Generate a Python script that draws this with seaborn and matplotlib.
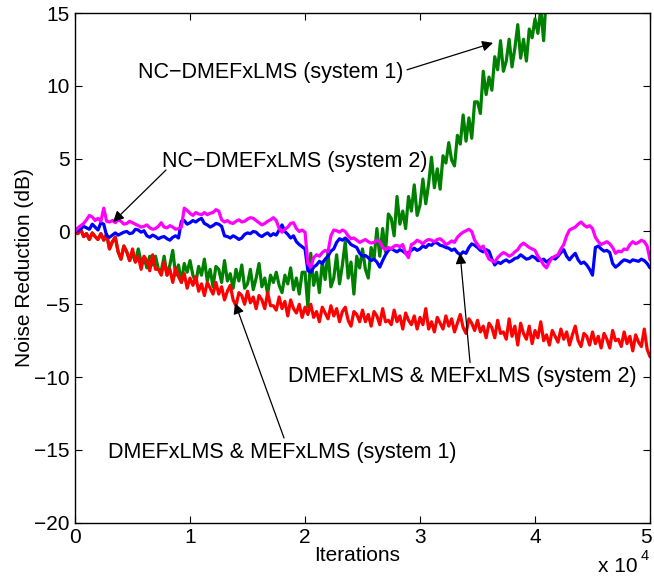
import numpy as np
import pandas as pd
import matplotlib
matplotlib.use("Agg")
import matplotlib.pyplot as plt
import matplotlib.transforms as mtransforms
import seaborn as sns

# ---------------- data ----------------
step = 250      # iteration spacing of all curves

red_db = [
    0.0, -0.15, 0.15, -0.35, -0.15, -0.55, -0.1, -0.35, -0.55, -0.15,
    -0.6, -0.2, -1.2, -0.7, -0.4, -1.4, -1.9, -1.0, -1.4, -2.0,
    -1.2, -2.1, -1.7, -2.6, -1.7, -2.0, -2.7, -1.6, -2.6, -2.6,
    -3.0, -2.1, -3.0, -2.6, -3.5, -2.5, -3.1, -3.5, -2.9, -3.9,
    -3.2, -3.7, -3.1, -4.1, -3.6, -4.4, -3.5, -3.9, -4.3, -3.5,
    -4.3, -3.8, -4.7, -4.1, -3.7, -4.7, -5.1, -4.2, -4.4, -5.0,
    -4.1, -4.9, -4.5, -5.3, -4.4, -4.7, -5.3, -4.2, -5.1, -5.1,
    -5.4, -4.5, -5.3, -4.8, -5.8, -4.7, -5.3, -5.6, -5.0, -5.9,
    -5.2, -5.7, -5.0, -5.9, -5.5, -6.2, -5.2, -5.6, -6.0, -5.1,
    -5.8, -5.3, -6.2, -5.5, -5.2, -6.1, -6.5, -5.5, -5.7, -6.2,
    -5.4, -6.2, -5.7, -6.5, -5.5, -5.8, -6.4, -5.3, -6.2, -6.1,
    -6.4, -5.4, -6.2, -5.8, -6.7, -5.6, -6.1, -6.4, -5.8, -6.7,
    -5.9, -6.4, -5.3, -6.7, -6.2, -6.9, -5.9, -6.3, -6.7, -5.8,
    -6.5, -6.0, -6.9, -6.3, -5.7, -6.6, -7.0, -6.0, -6.3, -6.8,
    -6.1, -6.9, -6.5, -7.3, -6.3, -6.6, -7.3, -6.1, -7.0, -6.9,
    -7.4, -6.0, -7.2, -6.5, -7.8, -6.3, -7.0, -7.4, -6.5, -7.7,
    -6.8, -7.3, -6.2, -7.5, -7.1, -7.8, -6.8, -7.2, -7.6, -6.7,
    -7.4, -6.9, -7.8, -7.1, -6.5, -7.5, -7.9, -7.0, -7.2, -7.8,
    -6.9, -7.7, -7.2, -8.0, -7.0, -7.4, -8.0, -6.8, -7.5, -7.4,
    -7.9, -6.9, -7.7, -7.2, -8.2, -7.1, -7.6, -7.9, -6.7, -8.1,
    -8.6,
]

green_db = [
    0.0, -0.15, 0.15, -0.35, -0.15, -0.55, -0.1, -0.35, -0.55, -0.15,
    -0.6, -0.2, -1.2, -0.7, -0.4, -1.4, -1.9, -1.0, -1.4, -2.0,
    -1.5, -2.1, -1.2, -2.1, -1.8, -2.5, -1.7, -2.3, -1.7, -2.6,
    -2.7, -1.7, -3.0, -2.3, -1.3, -3.0, -2.3, -3.5, -2.2, -2.8,
    -2.0, -3.0, -3.5, -2.4, -3.0, -1.9, -3.4, -2.6, -3.8, -2.4,
    -2.6, -3.5, -2.0, -3.4, -2.9, -3.9, -2.6, -3.4, -2.3, -3.9,
    -3.6, -2.6, -4.0, -3.2, -2.2, -3.8, -3.2, -4.3, -3.0, -3.5,
    -2.8, -3.7, -4.2, -3.0, -3.6, -2.5, -4.0, -3.2, -4.3, -2.8,
    -2.8, -5.2, -1.5, -3.7, -2.8, -4.2, -2.1, -3.3, -1.4, -3.8,
    -3.2, -1.6, -3.6, -2.3, -0.7, -3.2, -2.1, -4.3, -1.7, -2.5,
    -1.2, -2.6, -3.2, -1.1, -1.9, 0.2, -1.7, 0.2, -1.4, 1.2,
    0.9, -0.3, 2.4, 0.5, 1.4, 0.2, 2.4, 1.4, 3.2, 1.1,
    1.8, 3.6, 1.9, 3.3, 5.1, 3.0, 4.3, 2.9, 5.2, 4.7,
    6.1, 4.9, 4.5, 6.6, 6.0, 8.0, 6.2, 7.8, 6.4, 8.9,
    8.9, 8.1, 11.0, 9.4, 10.6, 9.7, 12.0, 11.1, 13.1, 11.0,
    11.7, 13.2, 11.3, 12.6, 14.2, 11.9, 13.2, 11.7, 13.9, 13.3,
    14.6, 13.6, 15.3, 13.1, 16.5,
]

blue_db = [
    0.0, 0.05, 0.2, 0.35, 0.25, 0.15, 0.5, 0.3, 0.1, 0.6,
    0.5, -0.3, -0.4, -0.25, -0.1, -0.25, -0.15, -0.05, 0.0, -0.15,
    -0.1, 0.15, 0.1, -0.05, 0.05, -0.3, -0.4, -0.25, -0.35, -0.5,
    -0.4, -0.35, -0.5, -0.6, -0.4, -0.3, -0.45, 0.7, 0.75, 0.5,
    0.6, 0.75, 0.65, 0.8, 0.9, 0.55, 0.45, 0.3, 0.4, 0.55,
    0.5, 0.35, -0.3, -0.35, -0.45, -0.3, -0.4, -0.55, -0.45, -0.2,
    -0.1, -0.15, 0.0, -0.05, -0.25, -0.35, -0.2, -0.1, -0.3, -0.15,
    -0.25, 0.1, 0.45, 0.0, -0.2, -0.45, -0.3, -0.7, -0.9, -1.05,
    -1.2, -2.7, -2.8, -2.45, -2.3, -2.05, -2.2, -1.9, -1.7, -1.35,
    -1.2, -0.75, -0.5, -0.6, -0.45, -0.65, -0.9, -1.0, -1.1, -1.5,
    -1.7, -1.65, -1.8, -2.0, -1.9, -2.1, -2.45, -2.0, -1.6, -1.3,
    -1.15, -1.3, -1.4, -1.25, -1.35, -1.5, -1.45, -1.3, -1.15, -1.3,
    -1.2, -1.0, -1.1, -0.9, -0.95, -0.75, -0.8, -0.95, -1.0, -1.1,
    -1.15, -1.3, -1.2, -1.45, -1.6, -1.4, -1.5, -1.1, -0.85, -0.95,
    -1.1, -1.3, -1.4, -1.25, -1.35, -1.9, -2.3, -2.1, -2.2, -2.05,
    -1.95, -2.1, -2.0, -1.85, -1.8, -1.6, -1.75, -1.9, -1.85, -1.7,
    -1.8, -2.0, -2.0, -1.9, -2.1, -1.95, -1.8, -1.9, -1.7, -1.45,
    -1.25, -1.7, -1.95, -1.7, -1.5, -1.95, -2.2, -2.1, -2.3, -2.6,
    -3.0, -1.1, -1.0, -1.2, -1.35, -1.3, -1.45, -2.2, -2.45, -2.3,
    -2.1, -1.95, -2.0, -2.1, -1.95, -2.0, -2.05, -1.9, -2.0, -2.2,
    -2.5,
]

magenta_db = [
    0.0, 0.25, 0.4, 0.55, 0.8, 1.1, 1.0, 0.75, 0.9, 0.7,
    1.6, 0.7, 0.65, 0.75, 0.6, 0.8, 0.7, 0.5, 0.55, 0.7,
    0.6, 0.5, 0.4, 0.3, 0.35, 0.45, 0.25, 0.15, 0.2, 0.35,
    0.6, 0.3, 0.25, 0.4, 0.3, 0.15, 0.2, 0.3, 1.6, 1.45,
    1.25, 1.1, 1.3, 1.2, 1.15, 1.3, 1.15, 1.25, 1.3, 1.5,
    1.4, 0.8, 0.65, 0.75, 0.6, 0.55, 0.7, 0.8, 0.65, 0.7,
    0.85, 0.95, 0.9, 0.75, 0.6, 0.45, 0.55, 0.7, 0.8, 0.95,
    0.75, 0.2, -0.05, 0.15, 0.3, 0.55, 0.6, 0.2, 0.0, 0.1,
    -0.05, -2.2, -2.45, -1.8, -1.6, -1.7, -1.45, -1.3, -1.4, -0.3,
    0.1, 0.05, -0.05, 0.1, 0.0, -0.3, -0.5, -0.45, -0.6, -0.75,
    -0.65, -0.55, -0.7, -0.8, -0.75, -0.6, -0.7, -1.1, -1.25, -1.1,
    -1.2, -1.0, -0.95, -1.05, -0.9, -1.5, -1.8, -0.9, -0.8, -0.6,
    -0.7, -0.85, -0.65, -0.55, -0.6, -0.7, -0.55, -0.5, -0.65, -0.9,
    -0.8, -0.65, -0.75, -0.4, -0.2, -0.05, 0.05, 0.15, 0.0, -0.6,
    -0.9, -1.15, -1.0, -1.5, -1.9, -2.0, -2.1, -1.8, -1.6, -1.45,
    -1.55, -1.7, -1.6, -1.4, -1.25, -0.95, -0.8, -0.95, -1.1, -1.2,
    -1.3, -1.7, -1.95, -2.3, -2.5, -2.1, -1.8, -1.7, -1.6, -1.2,
    -0.9, -0.3, 0.1, 0.2, 0.3, 0.5, 0.65, 0.45, 0.3, 0.4,
    0.2, -0.4, -0.7, -0.9, -0.8, -0.7, -0.85, -1.1, -1.5, -1.35,
    -1.4, -1.2, -1.25, -0.9, -0.7, -0.85, -0.75, -0.6, -0.7, -1.0,
    -1.95,
]

x_ticks = [0, 10000, 20000, 30000, 40000, 50000]
x_tick_labels = ["0", "1", "2", "3", "4", "5"]
y_ticks = [-20, -15, -10, -5, 0, 5, 10, 15]
y_tick_labels = ["\u221220", "\u221215", "\u221210", "\u22125", "0", "5", "10", "15"]

label_nc1 = "NC\u2212DMEFxLMS (system 1)"
label_nc2 = "NC\u2212DMEFxLMS (system 2)"
label_s1 = "DMEFxLMS & MEFxLMS (system 1)"
label_s2 = "DMEFxLMS & MEFxLMS (system 2)"

# ---------------- build frames ----------------
def frame(values):
    return pd.DataFrame({"it": np.arange(len(values)) * step, "db": values})

df_green = frame(green_db)
df_red = frame(red_db)
df_blue = frame(blue_db)
df_mag = frame(magenta_db)

# ---------------- style ----------------
sns.set_style("ticks")
plt.rcParams["font.family"] = ["Liberation Sans", "DejaVu Sans"]
plt.rcParams["axes.unicode_minus"] = True
plt.rcParams["text.color"] = "black"
plt.rcParams["axes.labelcolor"] = "black"
plt.rcParams["xtick.color"] = "black"
plt.rcParams["ytick.color"] = "black"

fig = plt.figure(figsize=(6.54, 5.76), dpi=100)
ax = fig.add_axes([0.1147, 0.0925, 0.8792, 0.8849])

lw = 2.3
sns.lineplot(data=df_green, x="it", y="db", ax=ax, color="#008000", lw=lw,
             estimator=None, sort=False)
sns.lineplot(data=df_red, x="it", y="db", ax=ax, color="#ff0000", lw=lw,
             estimator=None, sort=False)
sns.lineplot(data=df_blue, x="it", y="db", ax=ax, color="#0000ff", lw=lw,
             estimator=None, sort=False)
sns.lineplot(data=df_mag, x="it", y="db", ax=ax, color="#ff00ff", lw=lw,
             estimator=None, sort=False)

ax.set_xlim(0, 50000)
ax.set_ylim(-20, 15)
ax.set_xticks(x_ticks)
ax.set_xticklabels(x_tick_labels)
ax.set_yticks(y_ticks)
ax.set_yticklabels(y_tick_labels)
ax.tick_params(direction="in", top=True, right=True, length=5, width=0.8,
               labelsize=15, colors="black", pad=4)
for s in ax.spines.values():
    s.set_visible(True)
    s.set_color("black")
    s.set_linewidth(1.0)

# keep the last x tick label inside the canvas
last = ax.get_xticklabels()[-1]
last.set_transform(last.get_transform() +
                   mtransforms.ScaledTranslation(-3 / 72, 0, fig.dpi_scale_trans))

ax.set_xlabel("Iterations", fontsize=15, va="top")
ax.xaxis.set_label_coords(0.49, -0.045)
ax.set_ylabel("Noise Reduction (dB)", fontsize=15)
ax.yaxis.set_label_coords(-0.072, 0.5)

# x 10^4 multiplier
fig.text(598 / 654, 1 - 572 / 576, "x 10", fontsize=15, ha="left", va="baseline")
fig.text(641 / 654, 1 - 560 / 576, "4", fontsize=10.5, ha="left", va="baseline")

# ---------------- annotations ----------------
arrow = dict(arrowstyle="-|>", color="black", lw=0.9, mutation_scale=16,
             shrinkA=0, shrinkB=0)
fs = 15.5

ax.text(28520, 10.55, label_nc1, fontsize=fs, ha="right", va="baseline")
ax.annotate("", xy=(36350, 12.95), xytext=(28870, 11.1), arrowprops=arrow)

ax.text(30610, 4.43, label_nc2, fontsize=fs, ha="right", va="baseline")
ax.annotate("", xy=(3304, 0.65), xytext=(7913, 4.22), arrowprops=arrow)

ax.text(48872, -10.34, label_s2, fontsize=fs, ha="right", va="baseline")
ax.annotate("", xy=(33480, -1.48), xytext=(34350, -9.0), arrowprops=arrow)

ax.text(2870, -15.53, label_s1, fontsize=fs, ha="left", va="baseline")
ax.annotate("", xy=(13914, -4.91), xytext=(18175, -14.18), arrowprops=arrow)

fig.savefig("out.png", dpi=100)
